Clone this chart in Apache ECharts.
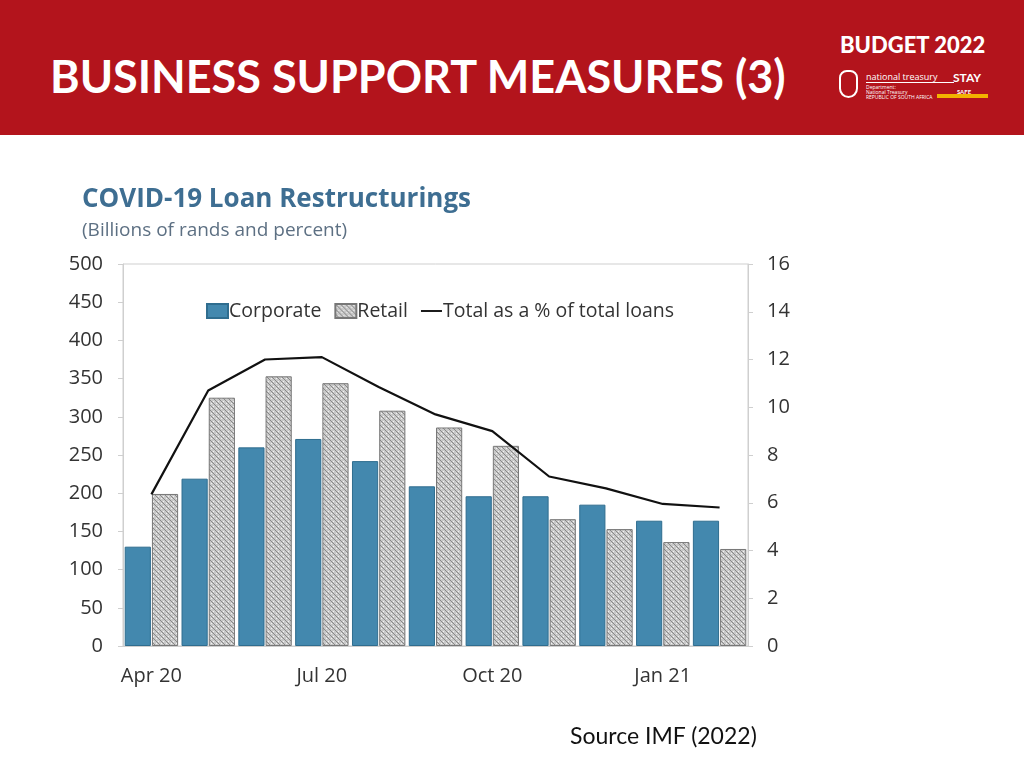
<!DOCTYPE html>
<html>
<head>
<meta charset="utf-8">
<script src="https://cdn.jsdelivr.net/npm/echarts@6/dist/echarts.min.js"></script>
<style>
  html, body { margin: 0; padding: 0; background: #fff; }
  body { width: 1024px; height: 768px; position: relative; overflow: hidden; font-family: Lato, "Open Sans", sans-serif; }
  #header { position: absolute; left: 0; top: 0; width: 1024px; height: 135px; background: #b3141c; }
  #header h1 { position: absolute; left: 50px; top: 49px; margin: 0; color: #fff; font: bold 45px Lato, sans-serif; }
  #budget { position: absolute; left: 840px; top: 31px; color: #fff; font: 900 22px Lato, sans-serif; }
  #crest { position: absolute; left: 839px; top: 70px; width: 19px; height: 28px; border: 2px solid #fff; border-radius: 9px 9px 11px 11px; box-sizing: border-box; }
  #nt { position: absolute; left: 866px; top: 72px; width: 88px; color: #fff; font: 5px "Open Sans", sans-serif; line-height: 5px; }
  #nt b { font-weight: normal; font-size: 9px; line-height: 10px; display: block; margin-bottom: 2px; border-bottom: 1px solid #fff; }
  #stay { position: absolute; left: 953px; top: 72px; color: #fff; font: bold 12px Lato, sans-serif; line-height: 12px; text-align: center; width: 22px; }
  #staybar { position: absolute; left: 937px; top: 94px; width: 51px; height: 4px; background: #f2b300; }
  #chart { position: absolute; left: 0; top: 135px; width: 1024px; height: 633px; }
  #source { position: absolute; left: 570px; top: 721px; font: 23px Lato, sans-serif; color: #111; }
</style>
</head>
<body>
<div id="header">
  <h1>BUSINESS SUPPORT MEASURES (3)</h1>
  <div id="budget">BUDGET 2022</div>
  <div id="crest"></div>
  <div id="nt"><b>national treasury</b>Department:<br>National Treasury<br>REPUBLIC OF SOUTH AFRICA</div>
  <div id="stay">STAY<br><span style="font-size:6px">SAFE</span></div>
  <div id="staybar"></div>
</div>
<div id="chart"></div>
<div id="source">Source IMF (2022)</div>
<script>
// Data
const months = ['Apr 20', 'May 20', 'Jun 20', 'Jul 20', 'Aug 20', 'Sep 20', 'Oct 20', 'Nov 20', 'Dec 20', 'Jan 21', 'Feb 21'];
const corporate = [130, 219, 260, 271, 242, 209, 196, 196, 185, 164, 164];
const retail = [199, 325, 353, 344, 308, 286, 262, 166, 153, 136, 127];
const totalPct = [6.35, 10.7, 12.0, 12.1, 10.85, 9.7, 9.0, 7.1, 6.6, 5.95, 5.8];
const leftTicks = { min: 0, max: 500, interval: 50 };
const rightTicks = { min: 0, max: 16, interval: 2 };

// Hatched fill for retail bars
function hatch() {
    const c = document.createElement('canvas');
    c.width = 5; c.height = 5;
    const ctx = c.getContext('2d');
    ctx.fillStyle = '#c9c9c9';
    ctx.fillRect(0, 0, 5, 5);
    ctx.fillStyle = '#888';
    for (let i = 0; i < 5; i++) ctx.fillRect(i, i, 1, 1);
    ctx.fillStyle = '#f2f2f2';
    ctx.fillRect(3, 1, 1, 1);
    ctx.fillRect(1, 3, 1, 1);
    return c;
}
const retailFill = { image: hatch(), repeat: 'repeat' };

const axisFont = { fontFamily: '"Open Sans", sans-serif', fontSize: 20, color: '#333' };

const chart = echarts.init(document.getElementById('chart'));
chart.setOption({
    animation: false,
    title: {
        text: 'COVID-19 Loan Restructurings',
        subtext: '(Billions of rands and percent)',
        left: 77, top: 47, itemGap: 8,
        textStyle: { fontFamily: '"Open Sans", sans-serif', fontWeight: 'bold', fontSize: 26, color: '#3e6e92' },
        subtextStyle: { fontFamily: '"Open Sans", sans-serif', fontSize: 19, color: '#5d7083' }
    },
    legend: {
        left: 201, top: 161, itemWidth: 21, itemHeight: 14, itemGap: 13,
        textStyle: { fontFamily: '"Open Sans", sans-serif', fontSize: 19.5, color: '#333', padding: [0, 0, 0, -4] },
        data: [
            { name: 'Corporate', icon: 'rect' },
            { name: 'Retail', icon: 'rect' },
            { name: 'Total as a % of total loans', icon: 'path://M0,0 L22,0 L22,2 L0,2 Z', itemStyle: { color: '#111' } }
        ]
    },
    grid: { left: 123, right: 276, top: 129, bottom: 122, show: true, borderColor: '#cfcfcf', borderWidth: 1 },
    xAxis: {
        type: 'category', data: months,
        axisLine: { lineStyle: { color: '#cfcfcf' } },
        axisTick: { show: false },
        axisLabel: Object.assign({ interval: 2, margin: 20 }, axisFont)
    },
    yAxis: [
        {
            type: 'value', min: leftTicks.min, max: leftTicks.max, interval: leftTicks.interval,
            splitLine: { show: false },
            axisLine: { show: true, lineStyle: { color: '#cfcfcf' } },
            axisTick: { show: true, length: 5, lineStyle: { color: '#cfcfcf' } },
            axisLabel: Object.assign({ margin: 20 }, axisFont)
        },
        {
            type: 'value', min: rightTicks.min, max: rightTicks.max, interval: rightTicks.interval,
            splitLine: { show: false },
            axisLine: { show: true, lineStyle: { color: '#cfcfcf' } },
            axisTick: { show: true, length: 5, lineStyle: { color: '#cfcfcf' } },
            axisLabel: Object.assign({ margin: 19 }, axisFont)
        }
    ],
    series: [
        {
            name: 'Corporate', type: 'bar', data: corporate,
            barGap: '4%', barCategoryGap: '6%',
            itemStyle: { color: '#4388ae', borderColor: '#2f6d8f', borderWidth: 1 }
        },
        {
            name: 'Retail', type: 'bar', data: retail,
            itemStyle: { color: retailFill, borderColor: '#777', borderWidth: 1 }
        },
        {
            name: 'Total as a % of total loans', type: 'line', yAxisIndex: 1, data: totalPct,
            symbol: 'none', z: 5,
            lineStyle: { color: '#111', width: 2.2 }
        }
    ]
});
</script>
</body>
</html>
